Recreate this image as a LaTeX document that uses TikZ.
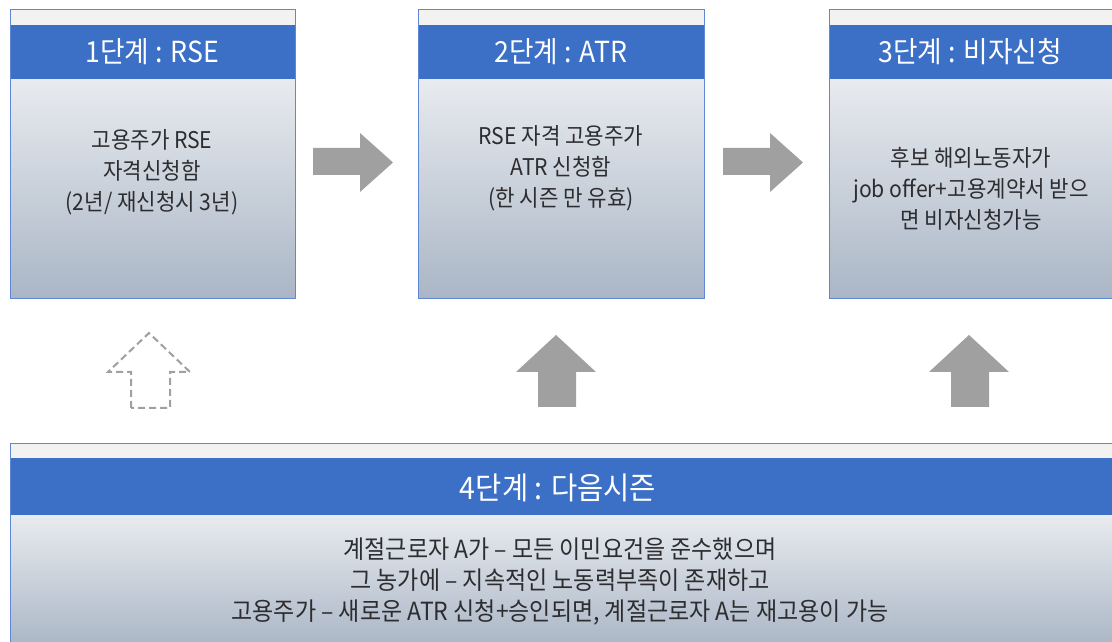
\documentclass[tikz,border=0pt]{standalone}
\usepackage{fontspec}
\setmainfont{Noto Sans CJK KR}
\newfontfamily\narrowkr[FakeStretch=0.92]{Noto Sans CJK KR}
\definecolor{band}{RGB}{60,112,198}
\definecolor{edge}{RGB}{95,135,212}
\definecolor{strip}{RGB}{242,243,241}
\definecolor{bodytop}{RGB}{232,235,239}
\definecolor{bodymid}{RGB}{208,214,222}
\definecolor{bodybot}{RGB}{170,182,198}
\definecolor{txt}{RGB}{45,45,48}
\definecolor{arrowgray}{RGB}{160,160,160}
\definecolor{dashgray}{RGB}{160,160,160}
\tikzset{
  headtext/.style={text=white, font=\narrowkr\fontsize{29}{32}\selectfont, inner sep=0pt},
  bigheadtext/.style={text=white, font=\narrowkr\fontsize{31}{34}\selectfont, inner sep=0pt},
  bodytext/.style={text=txt, font=\narrowkr\fontsize{23}{31}\selectfont, align=center, inner sep=0pt},
  wide body/.style={text=txt, font=\narrowkr\fontsize{25}{31}\selectfont, align=center, inner sep=0pt},
  solidarrow/.style={fill=arrowgray, draw=none},
  dasharrow/.style={draw=dashgray, line width=2pt, dash pattern=on 7pt off 4pt, fill=none},
  boxedge/.style={draw=edge, line width=0.8pt}
}
\begin{document}
\begin{tikzpicture}[x=1pt,y=1pt]
\useasboundingbox (0,0) rectangle (1112,642);
\fill[white] (0,0) rectangle (1112,642);
% three top boxes
\foreach \xa/\xb in {10/295, 418/704, 829/1113}{
  \shade[top color=bodytop, middle color=bodymid, bottom color=bodybot] (\xa,344) rectangle (\xb,563);
  \fill[strip] (\xa,617) rectangle (\xb,633);
  \fill[band] (\xa,563) rectangle (\xb,617);
  \draw[boxedge] (\xa,344) rectangle (\xb,633);
}
% bottom box
\shade[top color=bodytop, middle color=bodymid, bottom color=bodybot] (10,-5) rectangle (1115,127);
\fill[strip] (10,184) rectangle (1115,199);
\fill[band] (10,127) rectangle (1115,184);
\draw[boxedge] (10,-5) rectangle (1115,199);

% headers
\node[headtext] (h1) at (152,590) {1단계 : RSE};
\node[headtext] (h2) at (561,590) {2단계 : ATR};
\node[headtext] (h3) at (970,590) {3단계 : 비자신청};
\node[bigheadtext] (h4) at (558,154) {4단계 : 다음시즌};
% bodies
\node[bodytext] (b1) at (152,470) {고용주가 RSE\\자격신청함\\(2년/ 재신청시 3년)};
\node[bodytext] (b2) at (561,474) {RSE 자격 고용주가\\ATR 신청함\\(한 시즌 만 유효)};
\node[bodytext] (b3) at (971,453) {후보 해외노동자가\\job offer+고용계약서 받으\\면 비자신청가능};
\node[wide body] (b4) at (560,60) {계절근로자 A가 – 모든 이민요건을 준수했으며\\그 농가에 – 지속적인 노동력부족이 존재하고\\고용주가 – 새로운 ATR 신청+승인되면, 계절근로자 A는 재고용이 가능};

% right arrows
\foreach \dx in {0,410}{
  \fill[solidarrow, shift={(\dx,0)}] (313,467) -- (360,467) -- (360,450) -- (393,479.5) -- (360,509) -- (360,494) -- (313,494) -- cycle;
}
% up arrows
\draw[dasharrow] (131,234) -- (131,270) -- (108,270) -- (149,309) -- (190,270) -- (170,270) -- (170,234) -- cycle;
\foreach \dx in {407,820}{
  \fill[solidarrow, shift={(\dx,0)}] (131,235) -- (131,270) -- (109,270) -- (149,307) -- (189,270) -- (169,270) -- (169,235) -- cycle;
}
\end{tikzpicture}
\end{document}
